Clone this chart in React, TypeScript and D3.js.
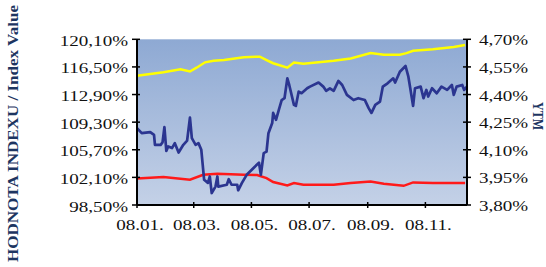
import * as d3 from "d3";

// x axis ticks (month.year labels as shown in the chart)
const tickDates = ["2008-01-01", "2008-03-01", "2008-05-01", "2008-07-01", "2008-09-01", "2008-11-01"];
const tickLabels = ["08.01.", "08.03.", "08.05.", "08.07.", "08.09.", "08.11."];

const leftTicks = [98.5, 102.1, 105.7, 109.3, 112.9, 116.5, 120.1];
const rightTicks = [3.8, 3.95, 4.1, 4.25, 4.4, 4.55, 4.7];

// index value series (left axis)
const yellowDates = ["2008-01-01", "2008-01-29", "2008-02-16", "2008-02-26", "2008-03-04", "2008-03-13", "2008-03-22", "2008-04-02", "2008-04-23", "2008-05-10", "2008-05-17", "2008-05-24", "2008-06-08", "2008-06-15", "2008-06-25", "2008-07-27", "2008-08-14", "2008-09-04", "2008-09-18", "2008-10-05", "2008-10-12", "2008-10-19", "2008-11-09", "2008-12-01", "2008-12-13"];
const yellowValues = [115.36, 115.8, 116.2, 115.9, 116.4, 117.1, 117.3, 117.4, 117.76, 117.84, 117.4, 116.98, 116.4, 117.06, 116.9, 117.3, 117.6, 118.3, 118.1, 118.1, 118.3, 118.6, 118.8, 119.1, 119.36];

const redDates = ["2008-01-01", "2008-01-29", "2008-02-26", "2008-03-11", "2008-03-26", "2008-04-23", "2008-05-07", "2008-05-17", "2008-05-24", "2008-06-08", "2008-06-15", "2008-06-25", "2008-07-27", "2008-08-14", "2008-09-04", "2008-09-18", "2008-10-09", "2008-10-19", "2008-11-09", "2008-12-13"];
const redValues = [101.96, 102.14, 101.8, 102.44, 102.57, 102.44, 102.4, 102.0, 101.5, 101.05, 101.36, 101.15, 101.15, 101.36, 101.57, 101.27, 101.0, 101.44, 101.36, 101.36];

// YTM series (right axis)
const blueDates = ["2008-01-01", "2008-01-06", "2008-01-15", "2008-01-19", "2008-01-20", "2008-01-26", "2008-01-28", "2008-01-30", "2008-02-01", "2008-02-03", "2008-02-07", "2008-02-10", "2008-02-14", "2008-02-19", "2008-02-23", "2008-02-26", "2008-02-28", "2008-03-03", "2008-03-06", "2008-03-09", "2008-03-12", "2008-03-16", "2008-03-18", "2008-03-20", "2008-03-24", "2008-03-26", "2008-03-27", "2008-04-05", "2008-04-07", "2008-04-10", "2008-04-16", "2008-04-17", "2008-04-21", "2008-04-26", "2008-05-03", "2008-05-09", "2008-05-11", "2008-05-14", "2008-05-17", "2008-05-19", "2008-05-23", "2008-05-24", "2008-05-27", "2008-05-30", "2008-06-02", "2008-06-05", "2008-06-08", "2008-06-10", "2008-06-15", "2008-06-17", "2008-06-20", "2008-06-23", "2008-06-29", "2008-07-02", "2008-07-11", "2008-07-16", "2008-07-19", "2008-07-23", "2008-07-27", "2008-08-01", "2008-08-05", "2008-08-10", "2008-08-17", "2008-08-22", "2008-08-29", "2008-09-02", "2008-09-05", "2008-09-09", "2008-09-14", "2008-09-17", "2008-09-22", "2008-09-28", "2008-09-30", "2008-10-05", "2008-10-11", "2008-10-14", "2008-10-16", "2008-10-19", "2008-10-21", "2008-10-27", "2008-10-30", "2008-11-02", "2008-11-04", "2008-11-08", "2008-11-13", "2008-11-18", "2008-11-24", "2008-11-29", "2008-12-01", "2008-12-04", "2008-12-10", "2008-12-12", "2008-12-15"];
const blueValues = [4.218, 4.19, 4.196, 4.181, 4.127, 4.127, 4.14, 4.223, 4.094, 4.118, 4.109, 4.136, 4.085, 4.127, 4.15, 4.275, 4.163, 4.127, 4.136, 4.1, 3.937, 3.92, 3.955, 3.865, 3.9, 3.955, 3.9, 3.91, 3.94, 3.91, 3.91, 3.88, 3.92, 3.964, 4.0, 4.03, 3.964, 4.082, 4.09, 4.19, 4.245, 4.3, 4.263, 4.317, 4.37, 4.38, 4.488, 4.452, 4.344, 4.338, 4.416, 4.407, 4.434, 4.443, 4.465, 4.443, 4.42, 4.434, 4.42, 4.474, 4.452, 4.398, 4.37, 4.38, 4.37, 4.326, 4.3, 4.344, 4.362, 4.443, 4.461, 4.488, 4.465, 4.524, 4.555, 4.497, 4.434, 4.338, 4.434, 4.443, 4.38, 4.425, 4.389, 4.434, 4.407, 4.443, 4.425, 4.452, 4.398, 4.443, 4.452, 4.425, 4.443];

const parse = d3.timeParse("%Y-%m-%d");
const fmt = (v: number, digits: number) => v.toFixed(digits).replace(".", ",") + "%";

const W = 546;
const H = 267;
const left = 137;
const right = 467;
const top = 39.3;
const bottom = 205;
const font = "'Liberation Serif', 'Times New Roman', serif";
const titleColor = "#1d3561";

export default function App() {
  const x = d3
    .scaleTime()
    .domain([parse("2008-01-01")!, parse("2008-12-15")!])
    .range([left, right]);
  const yL = d3.scaleLinear().domain([98.5, 120.1]).range([bottom, top]);
  const yR = d3.scaleLinear().domain([3.8, 4.7]).range([bottom, top]);

  const mk = (dates: string[], vals: number[]) => dates.map((d, i) => ({ d: parse(d)!, v: vals[i] }));
  const lineL = d3.line<{ d: Date; v: number }>().x((p) => x(p.d)).y((p) => yL(p.v));
  const lineR = d3.line<{ d: Date; v: number }>().x((p) => x(p.d)).y((p) => yR(p.v));

  const sx = 1.27;

  return (
    <svg width={W} height={H} style={{ position: "absolute", left: 0, top: 0 }}>
      <defs>
        <linearGradient id="bg" x1="0" y1="0" x2="0" y2="1">
          <stop offset="0%" stopColor="#8ea9d3" />
          <stop offset="100%" stopColor="#c4d1e7" />
        </linearGradient>
      </defs>
      <rect x={left} y={top} width={right - left} height={bottom - top} fill="url(#bg)" />

      <path d={lineL(mk(yellowDates, yellowValues))!} fill="none" stroke="#ffff00" strokeWidth={2.5} />
      <path d={lineL(mk(redDates, redValues))!} fill="none" stroke="#ff1a1a" strokeWidth={2.5} />
      <path d={lineR(mk(blueDates, blueValues))!} fill="none" stroke="#2b3590" strokeWidth={2.7} strokeLinejoin="round" />

      {/* axes */}
      <line x1={left} x2={left} y1={top} y2={bottom} stroke="#000" strokeWidth={2} />
      <line x1={right} x2={right} y1={top} y2={bottom} stroke="#000" strokeWidth={2} />
      <line x1={left} x2={right} y1={bottom} y2={bottom} stroke="#000" strokeWidth={2} />

      {leftTicks.map((t) => (
        <g key={"l" + t}>
          <line x1={left - 5} x2={left + 3} y1={yL(t)} y2={yL(t)} stroke="#000" strokeWidth={1.5} />
          <text
            transform={`translate(${left - 9},${yL(t) + 6.5}) scale(${sx},1)`}
            textAnchor="end"
            fontFamily={font}
            fontSize={15}
            fill="#111"
          >
            {fmt(t, 2)}
          </text>
        </g>
      ))}

      {rightTicks.map((t) => (
        <g key={"r" + t}>
          <line x1={right - 4} x2={right + 4} y1={yR(t)} y2={yR(t)} stroke="#000" strokeWidth={1.5} />
          <text
            transform={`translate(${right + 12},${yR(t) + 6}) scale(${sx},1)`}
            fontFamily={font}
            fontSize={15}
            fill="#111"
          >
            {fmt(t, 2)}
          </text>
        </g>
      ))}

      {tickDates.map((d, i) => {
        const px = x(parse(d)!);
        return (
          <g key={d}>
            <line x1={px} x2={px} y1={bottom - 3} y2={bottom + 3} stroke="#000" strokeWidth={1.5} />
            <text
              transform={`translate(${px + 3},${bottom + 24.5}) scale(${sx},1)`}
              textAnchor="middle"
              fontFamily={font}
              fontSize={15}
              fill="#111"
            >
              {tickLabels[i]}
            </text>
          </g>
        );
      })}

      <text
        transform={`translate(18,133.5) rotate(-90)`}
        textAnchor="middle"
        fontFamily={font}
        fontWeight="bold"
        fontSize={14}
        fill={titleColor}
        textLength={257}
        lengthAdjust="spacingAndGlyphs"
      >
        HODNOTA INDEXU / Index Value
      </text>
      <text
        transform={`translate(533,116) rotate(90)`}
        textAnchor="middle"
        fontFamily={font}
        fontWeight="bold"
        fontSize={14}
        fill={titleColor}
        textLength={28}
        lengthAdjust="spacingAndGlyphs"
      >
        YTM
      </text>
    </svg>
  );
}
